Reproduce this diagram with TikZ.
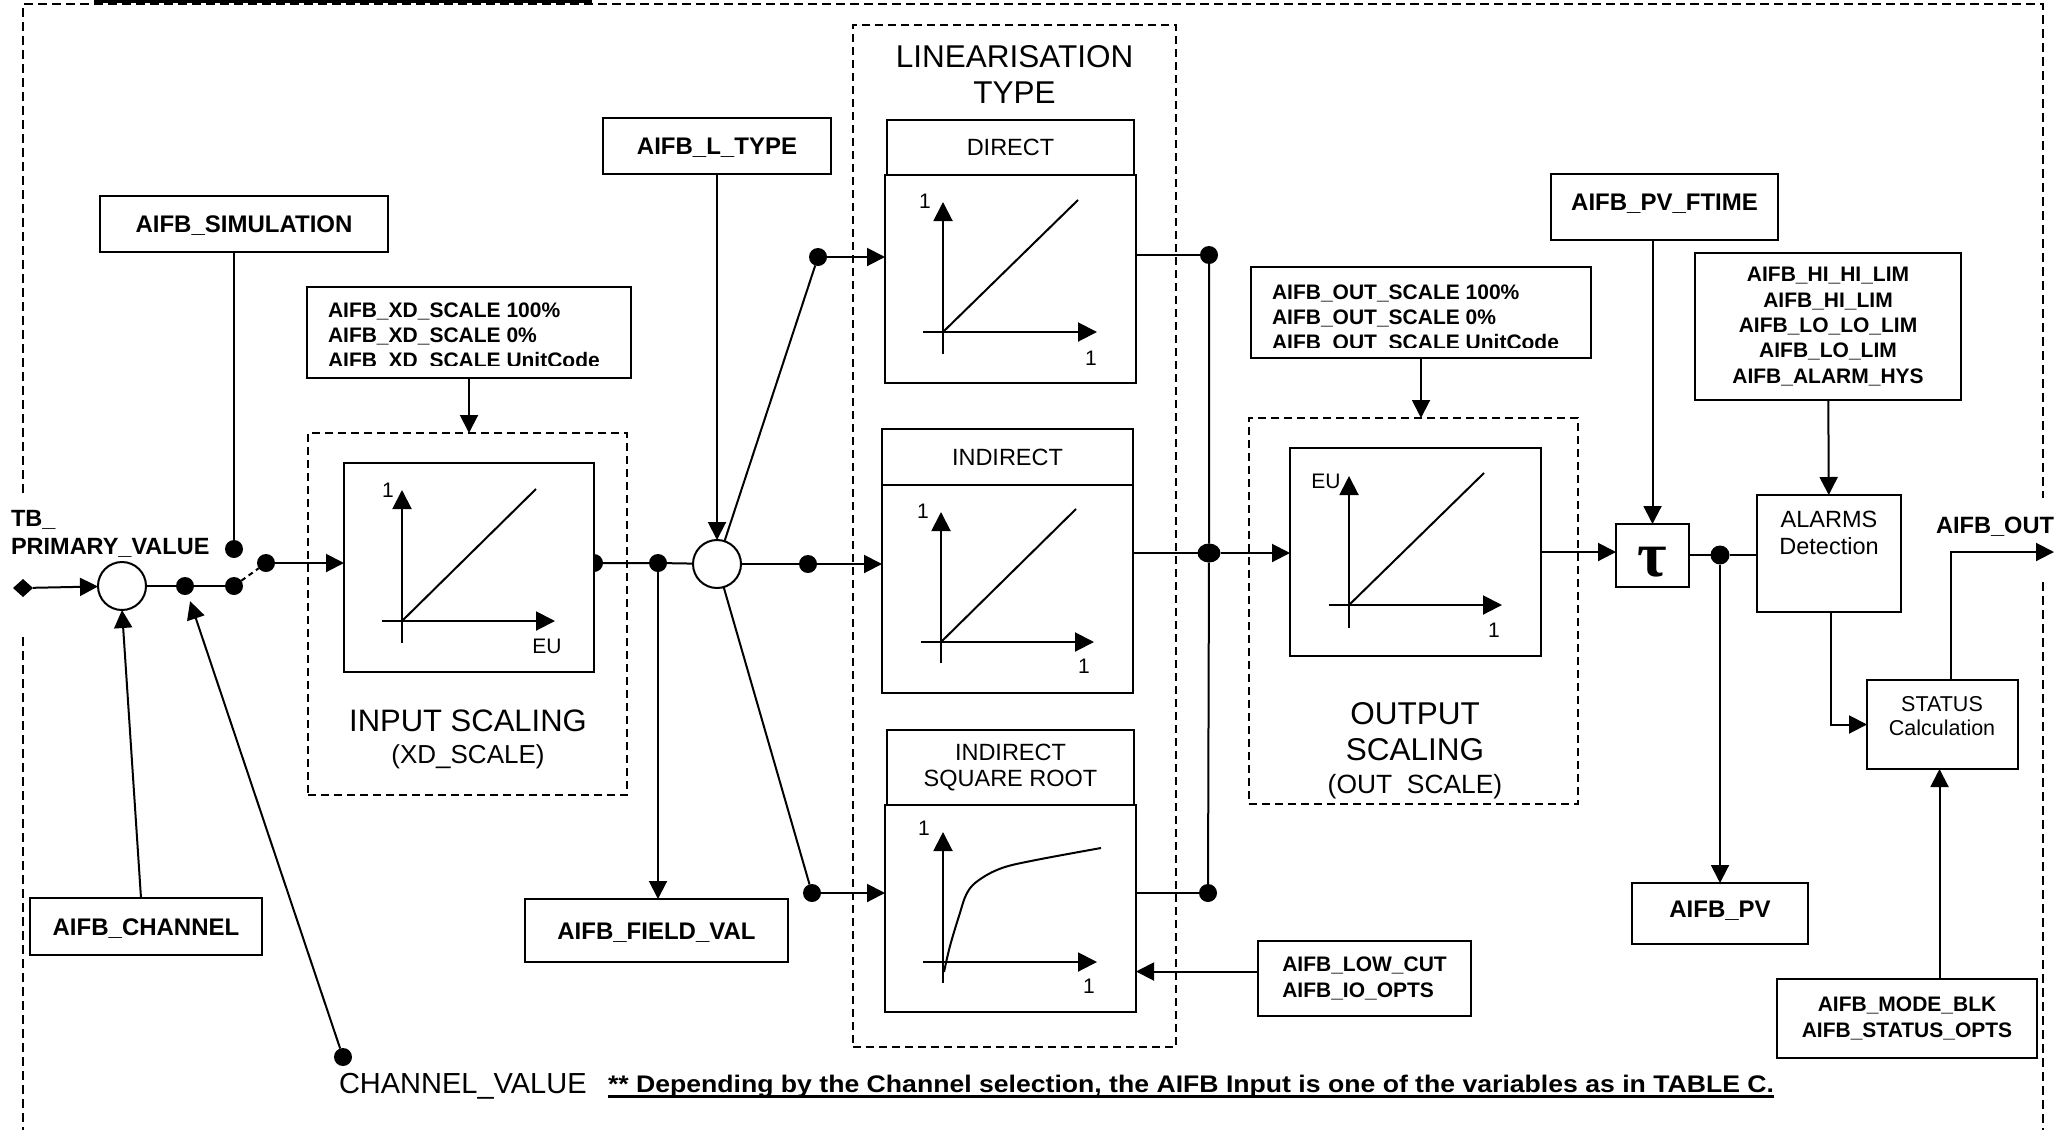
\documentclass[tikz,border=0pt]{standalone}
\usepackage{fontspec}
\usepackage{graphicx}
\setmainfont{Liberation Sans}
\newfontfamily\taufont{Liberation Serif}
\usetikzlibrary{arrows.meta,shapes.geometric,calc}

\newcommand\fsz[2]{\fontsize{#1}{#2}\selectfont}
\newcommand\fnrule[1]{\setbox0\hbox{#1}\rlap{\rule[-6pt]{\wd0}{3pt}}\box0}

\begin{document}
\begin{tikzpicture}[x=1pt,y=-1pt,
  every node/.style={inner sep=0pt, outer sep=0pt},
  frame/.style={draw, line width=2pt, fill=white},
  wh/.style 2 args={minimum width=#1pt, minimum height=#2pt},
  bold24/.style={font=\bfseries\fsz{24}{29}, text height=17pt, text depth=0pt},
  bold21/.style={font=\bfseries\fsz{21}{25.3}},
  regc/.style={font=\fsz{23.5}{26}, text height=16.8pt, text depth=0pt},
  group/.style={draw, line width=2pt, dash pattern=on 8pt off 5pt},
  border/.style={line width=2pt, dash pattern=on 9pt off 5pt},
  dot/.style={circle, fill, minimum size=18pt},
  conn/.style={line width=2pt},
  arr/.style={line width=2pt, -{Triangle[length=18pt,width=18pt]}},
  axis/.style={line width=2pt, -{Triangle[length=19pt,width=19pt]}},
  tick/.style={font=\fsz{21}{21}, anchor=base}
]
\useasboundingbox (0,0) rectangle (2069,1130);

% title rule and outer frame of the block
\fill (94,0) rectangle (592,3.3);
\draw[border] (23,493) -- (23,4) -- (2043,4) -- (2043,498);
\draw[border] (23,637) -- (23,1130);
\draw[border] (2043,582) -- (2043,1130);

% dashed function groups
\node[group, wh={319}{362}] (grpin) at (467.5,614) {};
\node[group, wh={323}{1022}] (grplin) at (1014.5,536) {};
\node[group, wh={329}{386}] (grpout) at (1413.5,611) {};

% input side
\node[diamond, fill, minimum width=20pt, minimum height=18pt] (dia) at (23,588) {};
\node[circle, draw, line width=2pt, fill=white, minimum size=48pt] (c1) at (122,586) {};
\node[anchor=north west, align=left, font=\bfseries\fsz{23.5}{28}] (tbpv) at (11,510) {TB\_\\PRIMARY\_VALUE};

% junction dots
\node[dot] (dsim) at (234,549) {};
\node[dot] (da) at (185,586) {};
\node[dot] (db) at (234,586) {};
\node[dot] (dc) at (266,563) {};
\node[dot] (dd) at (594,563) {};
\node[dot] (de) at (658,563) {};
\node[dot] (df) at (808,564) {};
\node[dot] (dg) at (818,257) {};
\node[dot] (dh) at (812,893) {};
\node[dot] (b1) at (1209,255) {};
\node[ellipse, fill, minimum width=23pt, minimum height=19pt] (b2) at (1209,553) {};
\node[dot] (b3) at (1208,893) {};
\node[dot, minimum size=19pt] (dt) at (1720,555) {};
\node[dot] (dcv) at (343,1057) {};
\node[circle, draw, line width=2pt, fill=white, minimum size=48pt] (c2) at (717,564) {};

% parameter boxes
\node[frame, bold24, wh={288}{56}] (sim) at (244,224) {AIFB\_SIMULATION};
\node[frame, wh={324}{91}] (xd) at (469,332.5) {};
\begin{scope}
  \clip (307,287) rectangle (631,365);
  \node[bold21, anchor=north west, align=left] (xdtxt) at (328,302.7)
    {AIFB\_XD\_SCALE 100\%\\AIFB\_XD\_SCALE 0\%\\AIFB\_XD\_SCALE UnitCode};
\end{scope}
\node[frame, bold24, wh={228}{56}] (ltype) at (717,146) {AIFB\_L\_TYPE};
\node[frame, bold24, wh={232}{57}] (chan) at (146,926.5) {AIFB\_CHANNEL};
\node[frame, bold24, wh={263}{63}] (field) at (656.5,930.5) {AIFB\_FIELD\_VAL};
\node[frame, bold24, wh={227}{66}, text depth=10pt] (ftime) at (1664.5,207) {AIFB\_PV\_FTIME};
\node[frame, wh={340}{91}] (outsc) at (1421,312.5) {};
\begin{scope}
  \clip (1251,267) rectangle (1591,347);
  \node[bold21, anchor=north west, align=left] (outsctxt) at (1272,284.7)
    {AIFB\_OUT\_SCALE 100\%\\AIFB\_OUT\_SCALE 0\%\\AIFB\_OUT\_SCALE UnitCode};
\end{scope}
\node[frame, bold21, wh={266}{147}, align=center] (alim) at (1828,326.5)
  {AIFB\_HI\_HI\_LIM\\AIFB\_HI\_LIM\\AIFB\_LO\_LO\_LIM\\AIFB\_LO\_LIM\\AIFB\_ALARM\_HYS};
\node[frame, bold21, wh={213}{75}, align=left] (lowcut) at (1364.5,978.5) {AIFB\_LOW\_CUT\\AIFB\_IO\_OPTS};
\node[frame, bold24, wh={176}{61}, text depth=10pt] (pv) at (1720,913.5) {AIFB\_PV};
\node[frame, bold21, wh={260}{79}, align=center] (mode) at (1907,1018.5) {AIFB\_MODE\_BLK\\AIFB\_STATUS\_OPTS};

% processing blocks
\node[frame, wh={144}{117}] (alarms) at (1829,553.5) {};
\node[font=\fsz{23.5}{27}, align=center, anchor=north] (alarmstxt) at (1829,511) {ALARMS\\Detection};
\node[frame, wh={151}{89}] (status) at (1942.5,724.5) {};
\node[font=\fsz{21.5}{24}, align=center, anchor=north] (statustxt) at (1942,696.6) {STATUS\\Calculation};
\node[frame, wh={73}{63}, font=\taufont\bfseries\fsz{64}{64}, text height=41pt, text depth=0pt] (tbox) at (1652.5,555.5) {τ};

% input scaling characteristic
\node[frame, wh={250}{209}] (insc) at (469,567.5) {};
\draw[axis] (402,643) -- (402,490);
\draw[axis] (382,621) -- (555,621);
\draw[conn] (402,621) -- (536,489);
\node[tick] (insc1) at (388,497) {1};
\node[tick] (inscEU) at (547,653) {EU};
\node[font=\fsz{31}{36}, anchor=base] (intitle) at (468,731) {INPUT SCALING};
\node[font=\fsz{26}{30}, anchor=base] (insub) at (468,763) {(XD\_SCALE)};

% linearisation choices
\node[font=\fsz{31.5}{36}, align=center, anchor=north] (lintitle) at (1014.5,45.4) {LINEARISATION\\TYPE};
\node[frame, regc, wh={247}{55}] (dirH) at (1010.5,147.5) {DIRECT};
\node[frame, wh={251}{208}] (dirG) at (1010.5,279) {};
\draw[axis] (943,354) -- (943,202);
\draw[axis] (923,332) -- (1097,332);
\draw[conn] (943,332) -- (1078,200);
\node[tick] (dir1a) at (925,208) {1};
\node[tick] (dir1b) at (1091,365) {1};

\node[frame, regc, wh={251}{56}] (indH) at (1007.5,457) {INDIRECT};
\node[frame, wh={251}{208}] (indG) at (1007.5,589) {};
\draw[axis] (941,663) -- (941,512);
\draw[axis] (921,642) -- (1094,642);
\draw[conn] (941,642) -- (1076,509);
\node[tick] (ind1a) at (923,518) {1};
\node[tick] (ind1b) at (1084,673) {1};

\node[frame, font=\fsz{23.5}{26}, align=center, wh={247}{75}] (sqH) at (1010.5,767.5) {INDIRECT\\SQUARE ROOT};
\node[frame, wh={251}{207}] (sqG) at (1010.5,908.5) {};
\draw[axis] (943,983) -- (943,832);
\draw[axis] (923,962) -- (1097,962);
\draw[conn] plot[smooth, tension=0.6] coordinates
  {(944,972) (950,946) (959,916) (967,893) (979,880) (1002,868) (1036,860) (1101,848)};
\node[tick] (sq1a) at (924,835) {1};
\node[tick] (sq1b) at (1089,993) {1};

% output scaling characteristic
\node[frame, wh={251}{208}] (outG) at (1415.5,552) {};
\draw[axis] (1349,628) -- (1349,476);
\draw[axis] (1329,605) -- (1502,605);
\draw[conn] (1349,605) -- (1484,473);
\node[tick] (outEU) at (1326,488) {EU};
\node[tick] (out1) at (1494,637) {1};
\node[font=\fsz{31.5}{36}, align=center, anchor=north] (outtitle) at (1415,702.4) {OUTPUT\\SCALING};
\node[font=\fsz{26.4}{30}, anchor=base] (outsub) at (1415,793) {(OUT\ \ SCALE)};

% free labels
\node[font=\bfseries\fsz{23.6}{28}, anchor=base west] (outlbl) at (1936,533) {AIFB\_OUT};
\node[font=\fsz{29}{34}, anchor=base west] (cvlbl) at (339,1093) {CHANNEL\_VALUE};
\node[font=\bfseries\fsz{24}{28}, anchor=base west] (note) at (608,1092)
  {\resizebox{1166pt}{\height}{\fnrule{** Depending by the Channel selection, the AIFB Input is one of the variables as in TABLE C.}}};
\coordinate (outend) at (2054,552);

% signal flow
\draw[arr] (dia) -- (c1);
\draw[conn] (c1) -- (da) -- (db);
\draw[conn, dash pattern=on 5pt off 4pt] (db) -- (dc);
\draw[arr] (dc) -- (dc -| insc.west);
\draw[conn] (dsim |- sim.south) -- (dsim);
\draw[arr] (xd.south) -- (xd.south |- grpin.north);
\draw[arr] ([xshift=-5pt]chan.north) -- (c1.south);
\draw[arr, shorten >=7pt] (dcv) -- (da);
\draw[conn] (dd) -- (de) -- (c2);
\draw[arr] (de) -- (de |- field.north);
\draw[arr] (ltype) -- (c2);
\draw[conn] (c2) -- (df);
\draw[arr] (df) -- (df -| indG.west);
\draw[conn] (c2) -- (dg);
\draw[arr] (dg) -- (dg -| dirG.west);
\draw[conn] (c2) -- (dh);
\draw[arr] (dh) -- (dh -| sqG.west);
\draw[conn] (b1 -| dirG.east) -- (b1);
\draw[conn] (b2 -| indG.east) -- (b2);
\draw[conn] (b3 -| sqG.east) -- (b3);
\draw[conn] (b1) -- (b2) -- (b3);
\draw[arr] (b2) -- (b2 -| outG.west);
\draw[arr] (outsc.south) -- (outsc.south |- grpout.north);
\draw[arr] ([yshift=7pt]lowcut.west) -- ([yshift=7pt]lowcut.west -| sqG.east);
\draw[arr] (outG.east) -- (outG.east -| tbox.west);
\draw[arr] (tbox.north |- ftime.south) -- (tbox.north);
\draw[conn] (tbox.east |- dt) -- (dt) -- (dt -| alarms.west);
\draw[arr] (dt) -- (pv);
\draw[arr] (alim) -- (alarms);
\draw[arr] ([xshift=2pt]alarms.south) |- (status.west);
\draw[arr] ([xshift=8.5pt]status.north) |- (outend);
\draw[arr] ([xshift=-3pt]status.south |- mode.north) -- ([xshift=-3pt]status.south);
\end{tikzpicture}
\end{document}
